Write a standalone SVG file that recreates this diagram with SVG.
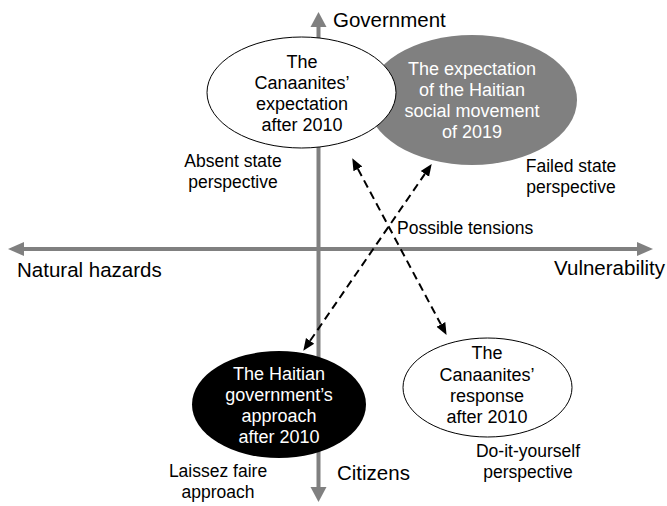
<svg xmlns="http://www.w3.org/2000/svg" width="667" height="506" viewBox="0 0 667 506">
  <style>
    text { font-family: "Liberation Sans", Arial, sans-serif; fill: #000; }
    .node { font-size: 18px; text-anchor: middle; }
    .inv { fill: #fff; }
    .lbl { font-size: 17.5px; text-anchor: middle; }
    .note { font-size: 17.5px; text-anchor: start; }
    .axis-lbl { font-size: 20.5px; }
    .axis { stroke: #808080; stroke-width: 4; fill: none; }
    .axis-head { fill: #808080; }
    .dash { stroke: #000; stroke-width: 2; stroke-dasharray: 8 5; fill: none; marker-start: url(#tip); marker-end: url(#tip); }
  </style>
  <defs>
    <marker id="tip" markerUnits="userSpaceOnUse" markerWidth="14" markerHeight="12" refX="0" refY="6" orient="auto-start-reverse" viewBox="0 0 14 12">
      <path d="M0,1 L12,6 L0,11 z" fill="#000"/>
    </marker>
  </defs>

  <rect width="667" height="506" fill="#fff"/>

  <!-- Axes -->
  <g id="axes">
    <line class="axis" x1="318.5" y1="26" x2="318.5" y2="488"/>
    <polygon class="axis-head" points="318.5,12 310.5,27 326.5,27"/>
    <polygon class="axis-head" points="318.5,502 310.5,487 326.5,487"/>
    <line class="axis" x1="23" y1="249" x2="638" y2="249"/>
    <polygon class="axis-head" points="8,249 24,242 24,256"/>
    <polygon class="axis-head" points="653,249 637,242 637,256"/>
    <text class="axis-lbl" x="333" y="27">Government</text>
    <text class="axis-lbl" x="17" y="277">Natural hazards</text>
    <text class="axis-lbl" x="665" y="275" text-anchor="end">Vulnerability</text>
    <text class="axis-lbl" x="337" y="480">Citizens</text>
  </g>

  <!-- Haitian social movement (grey) -->
  <g id="node-movement">
    <ellipse cx="472" cy="100" rx="105" ry="65" fill="#808080"/>
    <text class="node inv" x="472" y="75">The expectation</text>
    <text class="node inv" x="472" y="96">of the Haitian</text>
    <text class="node inv" x="472" y="117">social movement</text>
    <text class="node inv" x="472" y="138">of 2019</text>
  </g>

  <!-- Haitian government (black) -->
  <g id="node-government">
    <ellipse cx="279" cy="404.5" rx="87" ry="53.5" fill="#000"/>
    <text class="node inv" x="279" y="380">The Haitian</text>
    <text class="node inv" x="279" y="401">government’s</text>
    <text class="node inv" x="279" y="422">approach</text>
    <text class="node inv" x="279" y="443">after 2010</text>
  </g>

  <!-- Canaanites' expectation -->
  <g id="node-expectation">
    <ellipse cx="301.5" cy="92.5" rx="94.5" ry="55.5" fill="#fff" stroke="#000" stroke-width="1"/>
    <text class="node" x="302" y="68">The</text>
    <text class="node" x="302" y="89">Canaanites’</text>
    <text class="node" x="302" y="110">expectation</text>
    <text class="node" x="302" y="131">after 2010</text>
  </g>

  <!-- Canaanites' response -->
  <g id="node-response">
    <ellipse cx="487.5" cy="387.5" rx="84.5" ry="49.5" fill="#fff" stroke="#000" stroke-width="1"/>
    <text class="node" x="487" y="359">The</text>
    <text class="node" x="487" y="381">Canaanites’</text>
    <text class="node" x="487" y="402">response</text>
    <text class="node" x="487" y="423">after 2010</text>
  </g>

  <!-- Perspective labels -->
  <g id="labels">
    <text class="lbl" x="233" y="167">Absent state</text>
    <text class="lbl" x="233" y="188">perspective</text>
    <text class="lbl" x="571" y="172">Failed state</text>
    <text class="lbl" x="571" y="193">perspective</text>
    <text class="lbl" x="528" y="457">Do-it-yourself</text>
    <text class="lbl" x="528" y="478">perspective</text>
    <text class="lbl" x="218" y="477">Laissez faire</text>
    <text class="lbl" x="218" y="498">approach</text>
    <text class="note" x="397" y="234">Possible tensions</text>
  </g>

  <!-- Tension connectors -->
  <g id="connectors">
    <line class="dash" x1="310.1" y1="340.8" x2="424.9" y2="173.9"/>
    <line class="dash" x1="357.9" y1="168.9" x2="440.9" y2="324.4"/>
  </g>
</svg>
